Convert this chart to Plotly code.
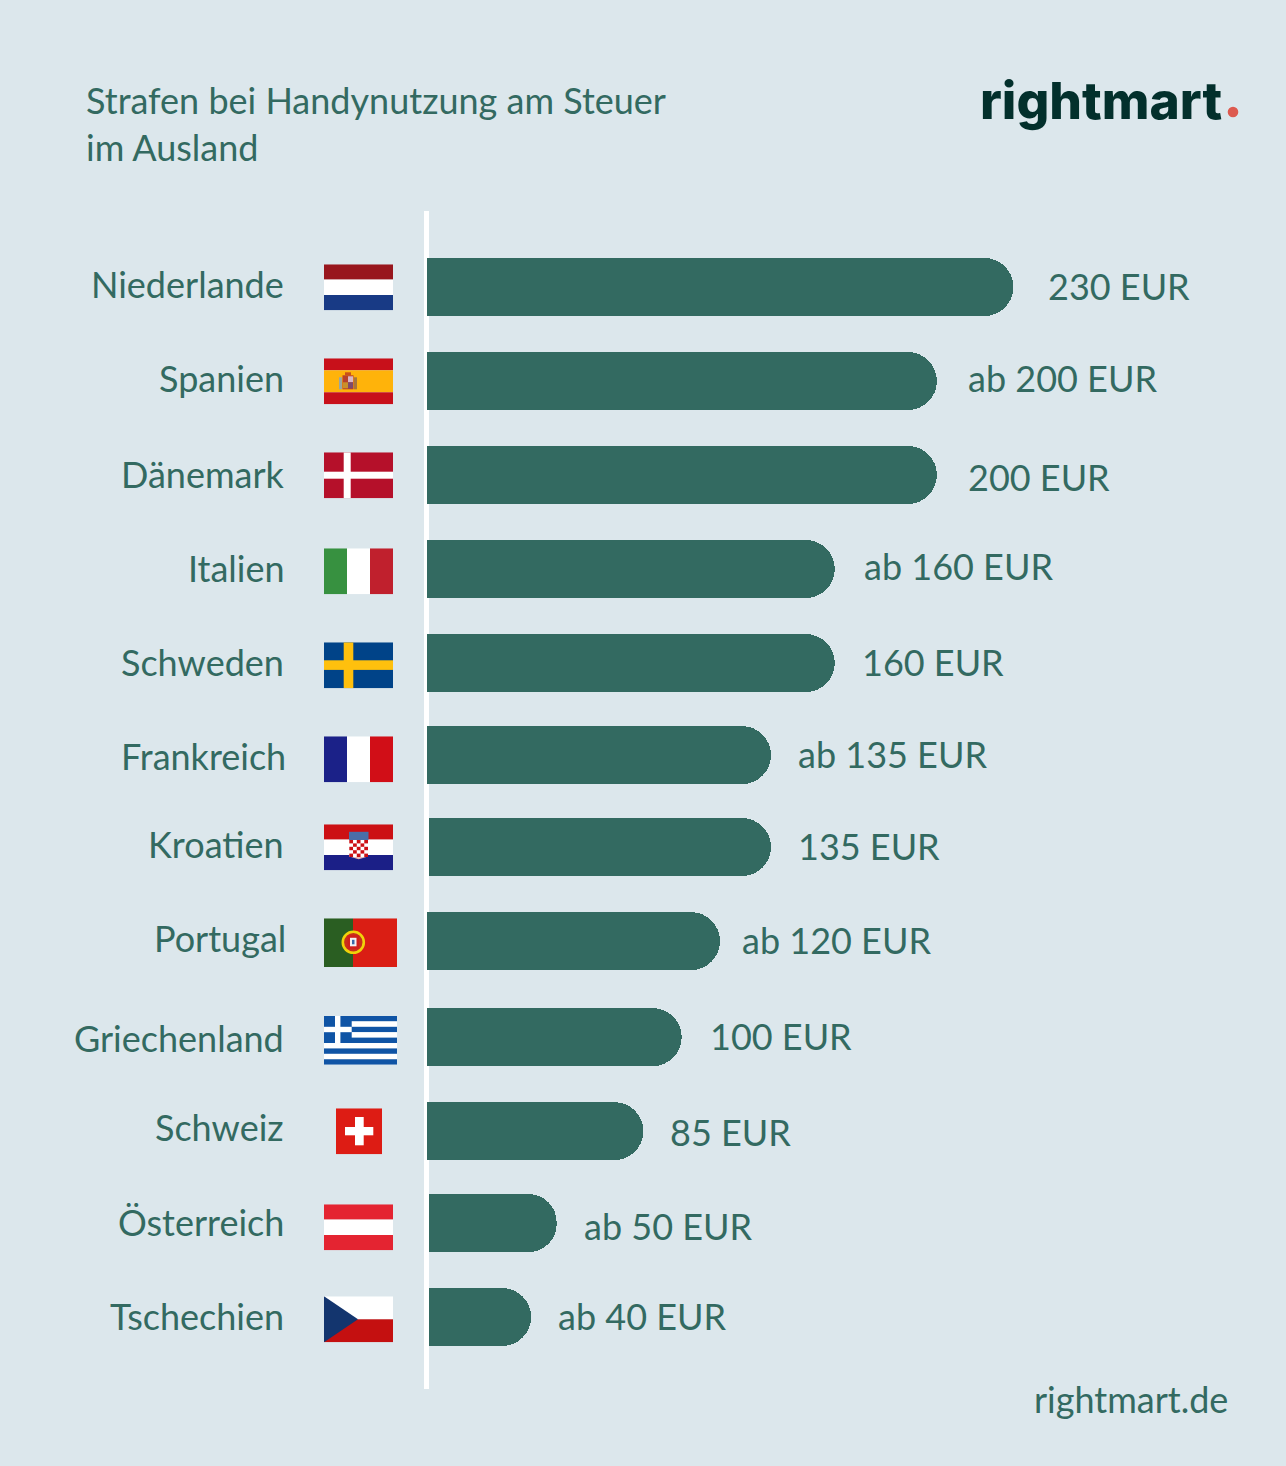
"""Strafen bei Handynutzung am Steuer: horizontal bars with flags, rightmart style."""

import base64

import plotly.graph_objects as go

countries = ["Niederlande", "Spanien", "Dänemark", "Italien", "Schweden", "Frankreich",
             "Kroatien", "Portugal", "Griechenland", "Schweiz", "Österreich", "Tschechien"]
value_labels = ["230 EUR", "ab 200 EUR", "200 EUR", "ab 160 EUR", "160 EUR", "ab 135 EUR",
                "135 EUR", "ab 120 EUR", "100 EUR", "85 EUR", "ab 50 EUR", "ab 40 EUR"]
# where the drawn bars actually start and end
bar_ends = [230, 200, 200, 160, 160, 135, 135, 115, 100, 85, 51, 41]
bar_starts = [0, 0, 0, 0, 0, 0, 1, 0, 0, 0, 1, 1]

W, H = 1286, 1466
BG = "#dce7ec"
GREEN = "#336a61"
FONT = "Lato"

# small hand offsets in px, the rows and labels are not on a regular grid in the original
row_nudge = [0, 0.4, 0.7, 1.1, 1.5, -0.1, -1.8, -1.4, 1, 1.4, -0.3, 0]
value_gap = [32.5, 29.5, 29.5, 27.5, 25.5, 24.5, 24.5, 19.5, 26.5, 24.5, 25.5, 24.5]
value_dy = [1, 3, -3, 2, 0, 1, 3, 2, 0, -2, -3, 1]
country_gap = [-140.5, -140.5, -139.5, -140, -140.5, -138.5, -140.5, -138.5, -140.5, -140.5, -140.5, -140.5]
country_dy = [3, 3, 0, 0, 0, -1, 5, 4, -2, 3, 1, 1]

flag_left = [324, 324, 324, 324, 324, 324, 324, 324, 324, 336, 324, 324]
flag_top = [264.3, 358.3, 452.3, 548.3, 642.3, 736.3, 824.3, 918.3, 1016, 1108.3, 1204.3, 1296.3]
flag_size = [(69, 46)] * 7 + [(73, 48.7), (73, 48.7), (46, 46), (69, 46), (69, 46)]


def rect(x, y, w, h, color):
    return f'<rect x="{x}" y="{y}" width="{w}" height="{h}" fill="{color}"/>'


def hr_shield():
    cells = [rect(25.3, 15.7, 18.7, 17, "#fff")]
    for row in range(5):
        for col in range(5):
            if (row + col) % 2 == 0:
                cells.append(rect(25.3 + col * 3.74, 15.7 + row * 3.4, 3.74, 3.4, "#cc1014"))
    cells.append('<polygon points="27,32.7 42.3,32.7 34.7,35" fill="#e9b8b8"/>')
    return "".join(cells)


flag_bodies = {
    "Niederlande": rect(0, 0, 69, 15.3, "#98161d") + rect(0, 15.3, 69, 15.4, "#fff") + rect(0, 30.7, 69, 15.3, "#183a85"),
    "Spanien": rect(0, 0, 69, 12, "#c8101a") + rect(0, 12, 69, 22, "#ffb30a") + rect(0, 34, 69, 12, "#c8101a")
    + rect(15, 19, 3, 12, "#9aa6a0") + rect(30, 19, 3, 12, "#a8763a") + rect(21, 14, 6, 3, "#c8501a")
    + rect(18.5, 17, 11, 14, "#b8402a") + rect(24, 18, 5, 6, "#d9b8c4") + rect(19, 24, 5, 6, "#c9902a")
    + rect(24, 24, 5, 6, "#7d4a6c"),
    "Dänemark": rect(0, 0, 69, 46, "#b5102a") + rect(19.7, 0, 7, 46, "#fff") + rect(0, 19.4, 69, 7, "#fff"),
    "Italien": rect(0, 0, 23, 46, "#379140") + rect(23, 0, 23, 46, "#fff") + rect(46, 0, 23, 46, "#c0202d"),
    "Schweden": rect(0, 0, 69, 46, "#004388") + rect(19.7, 0, 9.6, 46, "#ffc00d") + rect(0, 18, 69, 9.6, "#ffc00d"),
    "Frankreich": rect(0, 0, 23, 46, "#1b2188") + rect(23, 0, 23, 46, "#fff") + rect(46, 0, 23, 46, "#d10e17"),
    "Kroatien": rect(0, 0, 69, 15.3, "#cc1014") + rect(0, 15.3, 69, 15.4, "#fff") + rect(0, 30.7, 69, 15.3, "#1b1f87")
    + rect(25, 7.5, 19.5, 8.2, "#4a6ea8") + hr_shield(),
    "Portugal": rect(0, 0, 29, 48.7, "#2a5e22") + rect(29, 0, 44, 48.7, "#da1e14")
    + '<circle cx="29.3" cy="24" r="10.5" fill="#c8301c" stroke="#f0d20a" stroke-width="2.6"/>'
    + rect(23.5, 17, 11.5, 13.5, "#d0201c") + rect(26, 19.5, 6.5, 8.5, "#f2f2f2") + rect(28, 21.5, 2.5, 4.5, "#3a6aa8"),
    "Griechenland": "".join(rect(0, i * 5.41, 73, 5.41, "#0f54a5" if i % 2 == 0 else "#fff") for i in range(9))
    + rect(0, 0, 27.7, 27, "#0f54a5") + rect(11, 0, 5.4, 27, "#fff") + rect(0, 10.8, 27.7, 5.4, "#fff"),
    "Schweiz": rect(0, 0, 46, 46, "#dd1c14") + rect(19, 8.7, 8.7, 28.3, "#fff") + rect(9, 18.7, 28.3, 8.3, "#fff"),
    "Österreich": rect(0, 0, 69, 15.3, "#e42431") + rect(0, 15.3, 69, 15.4, "#fff") + rect(0, 30.7, 69, 15.3, "#e42431"),
    "Tschechien": rect(0, 0, 69, 23, "#fff") + rect(0, 23, 69, 23, "#c41010")
    + '<polygon points="0,0 34,23 0,46" fill="#13356e"/>',
}


def flag_uri(name, size):
    w, h = size
    svg = (f'<svg xmlns="http://www.w3.org/2000/svg" width="{w * 4}" height="{h * 4}" '
           f'viewBox="0 0 {w} {h}">{flag_bodies[name]}</svg>')
    return "data:image/svg+xml;base64," + base64.b64encode(svg.encode()).decode()


px_per_eur = 587 / 230
row_step = 93.64
bar_width = 58 / row_step
bar_offset = [-bar_width / 2 + n / row_step for n in row_nudge]

fig = go.Figure()
# explicit base would round all four corners, so the few late starts are an invisible stack
fig.add_trace(go.Bar(
    y=countries, x=bar_starts, orientation="h", width=bar_width, offset=bar_offset,
    marker=dict(color="rgba(0,0,0,0)", line_width=0), hoverinfo="skip",
))
fig.add_trace(go.Bar(
    y=countries,
    x=[e - s for e, s in zip(bar_ends, bar_starts)],
    orientation="h",
    width=bar_width,
    offset=bar_offset,
    marker=dict(color=GREEN, line_width=0, cornerradius=29),
    hoverinfo="y+x",
))

annotations = []
for i, name in enumerate(countries):
    annotations.append(dict(
        x=0, y=name, xref="x", yref="y", text=name, showarrow=False, xanchor="right",
        xshift=country_gap[i], yshift=country_dy[i], font=dict(size=36, color=GREEN, family=FONT),
    ))
    annotations.append(dict(
        x=bar_ends[i], y=name, xref="x", yref="y", text=value_labels[i], showarrow=False,
        xanchor="left", xshift=value_gap[i], yshift=value_dy[i],
        font=dict(size=36, color=GREEN, family=FONT),
    ))

annotations.append(dict(
    x=1230 / W, y=1 - 1399 / H, xref="paper", yref="paper", text="rightmart.de", showarrow=False,
    xanchor="right", yanchor="middle", font=dict(size=36, color=GREEN, family=FONT),
))
annotations.append(dict(
    x=978 / W, y=1 - 100 / H, xref="paper", yref="paper", showarrow=False,
    text="rightmart", xanchor="left", yanchor="middle",
    font=dict(size=51.5, color="#03302c", family="Inter", weight=800),
))

images = [
    dict(source=flag_uri(name, flag_size[i]), xref="paper", yref="paper", x=flag_left[i] / W,
         y=1 - flag_top[i] / H, sizex=flag_size[i][0] / W, sizey=flag_size[i][1] / H,
         sizing="stretch", xanchor="left", yanchor="top", layer="above")
    for i, name in enumerate(countries)
]

fig.update_layout(
    width=W, height=H,
    margin=dict(l=0, r=0, t=0, b=0),
    paper_bgcolor=BG,
    plot_bgcolor=BG,
    showlegend=False,
    barmode="stack",
    title=dict(
        text="Strafen bei Handynutzung am Steuer<br>im Ausland",
        x=86 / W, xanchor="left", y=1 - 114 / H, yanchor="top",
        font=dict(size=36, color=GREEN, family=FONT),
    ),
    xaxis=dict(
        range=[-426.5 / px_per_eur, (W - 426.5) / px_per_eur],
        showgrid=False, showticklabels=False, ticks="",
        zeroline=True, zerolinecolor="#ffffff", zerolinewidth=5,
    ),
    yaxis=dict(
        type="category", categoryorder="array", categoryarray=countries,
        domain=[1 - 1389 / H, 1 - 211 / H],
        range=[(1389 - 287) / row_step, (211 - 287) / row_step],
        showgrid=False, showticklabels=False, ticks="", zeroline=False,
    ),
    annotations=annotations,
    images=images,
    # the logo's full stop
    shapes=[dict(type="circle", xref="paper", yref="paper", x0=1227.7 / W, x1=1238.3 / W,
                 y0=1 - 117.3 / H, y1=1 - 106.7 / H, fillcolor="#dd5a4f", line_width=0)],
)

fig.write_html("out.html", config=dict(displayModeBar=False),
               post_script="document.body.style.margin='0';")
